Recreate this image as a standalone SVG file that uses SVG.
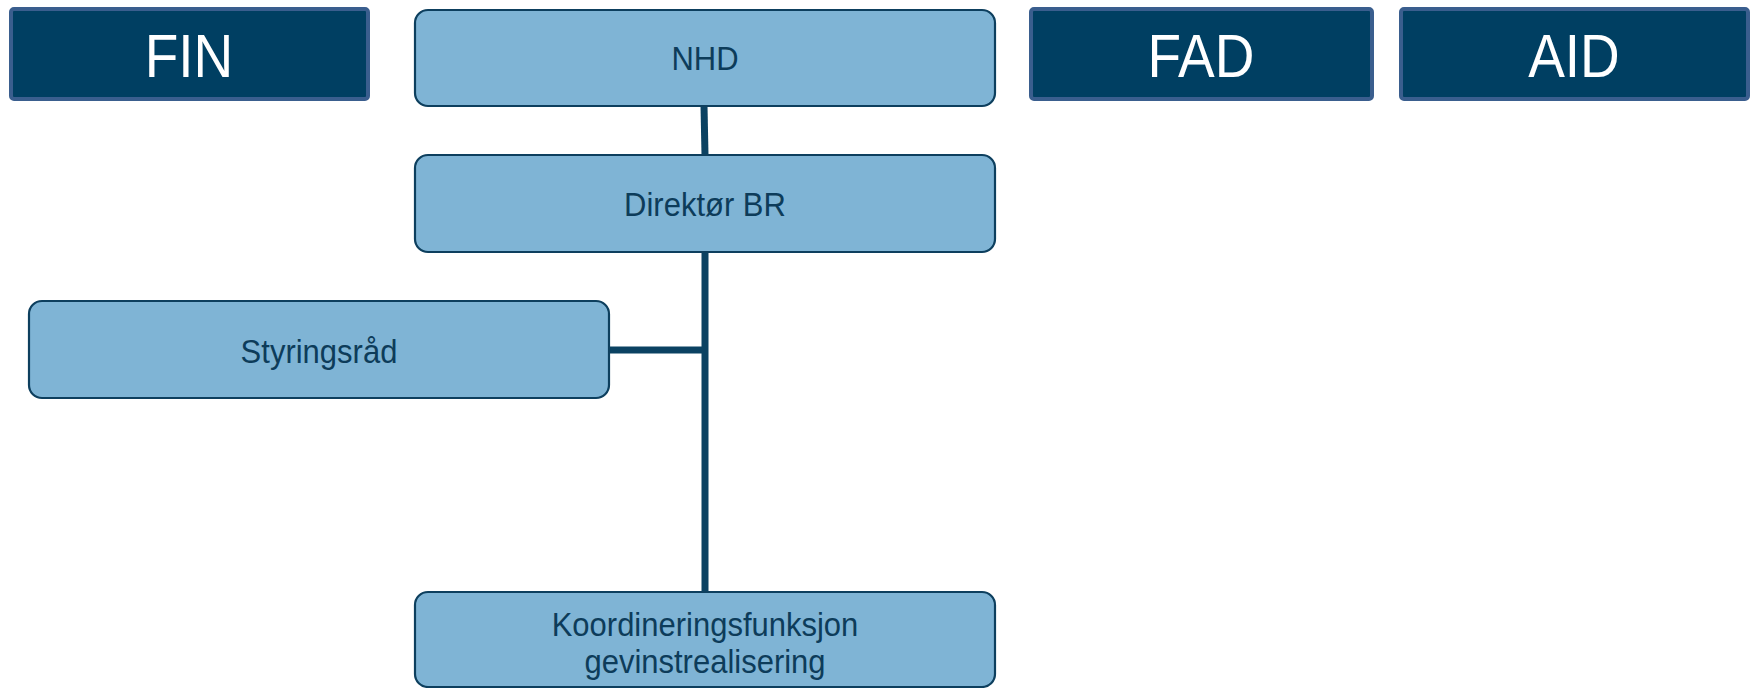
<svg xmlns="http://www.w3.org/2000/svg" width="1756" height="688" viewBox="0 0 1756 688">
<style>
.hdr{fill:#003f62;stroke:#3a5e8e;stroke-width:4}
.hdrt{fill:#ffffff;font-family:"Liberation Sans",Arial,sans-serif;font-size:55px;text-anchor:middle}
.box{fill:#7fb4d5;stroke:#0d3f5e;stroke-width:2.2}
.boxt{fill:#0d3c5a;font-family:"Liberation Sans",Arial,sans-serif;font-size:31px;text-anchor:middle}
.con{stroke:#0b4262;stroke-width:7;fill:none}
</style>
<rect width="1756" height="688" fill="#ffffff"/>
<g id="connectors">
<line class="con" x1="704" y1="106" x2="705" y2="155"/>
<line class="con" x1="705" y1="252" x2="705" y2="591"/>
<line class="con" x1="609" y1="350" x2="705" y2="350"/>
</g>
<g id="fin"><rect class="hdr" x="11" y="9" width="357" height="90" rx="3"/><text class="hdrt" transform="translate(189,77) scale(1,1.12)">FIN</text></g>
<g id="fad"><rect class="hdr" x="1031" y="9" width="341" height="90" rx="3"/><text class="hdrt" transform="translate(1201,77) scale(1,1.12)">FAD</text></g>
<g id="aid"><rect class="hdr" x="1401" y="9" width="347" height="90" rx="3"/><text class="hdrt" transform="translate(1574,77) scale(1,1.12)">AID</text></g>
<g id="nhd"><rect class="box" x="415" y="10" width="580" height="96" rx="13"/><text class="boxt" transform="translate(705,70) scale(1,1.1)">NHD</text></g>
<g id="direktor"><rect class="box" x="415" y="155" width="580" height="97" rx="13"/><text class="boxt" transform="translate(705,216) scale(1,1.1)">Direktør BR</text></g>
<g id="styringsrad"><rect class="box" x="29" y="301" width="580" height="97" rx="13"/><text class="boxt" transform="translate(319,363) scale(1,1.1)">Styringsråd</text></g>
<g id="koord"><rect class="box" x="415" y="592" width="580" height="95" rx="13"/><text class="boxt" transform="translate(705,636) scale(1,1.1)">Koordineringsfunksjon</text><text class="boxt" transform="translate(705,673) scale(1,1.1)">gevinstrealisering</text></g>
</svg>
